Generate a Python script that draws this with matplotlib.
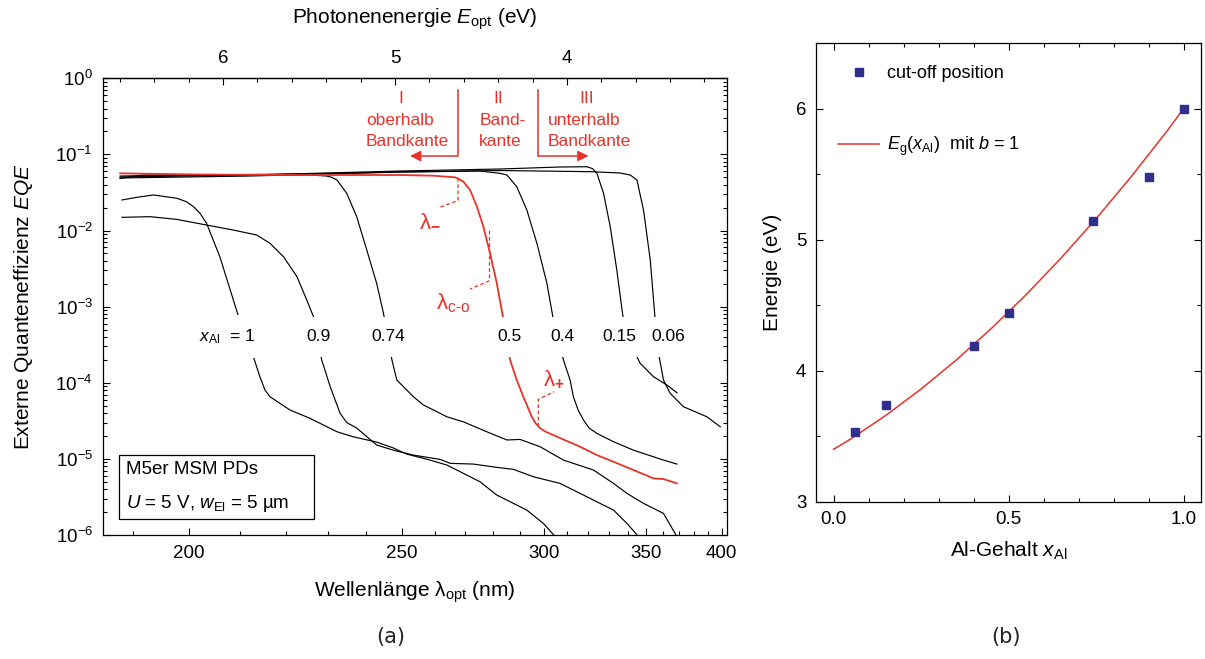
import numpy as np
import matplotlib
matplotlib.use("Agg")
import matplotlib.pyplot as plt
from matplotlib.ticker import MultipleLocator, LogLocator, NullFormatter
from matplotlib.lines import Line2D
from matplotlib.patches import Rectangle

plt.rcParams['font.family'] = ['Liberation Sans', 'DejaVu Sans']
plt.rcParams['mathtext.fontset'] = 'custom'
plt.rcParams['mathtext.rm'] = 'Liberation Sans'
plt.rcParams['mathtext.it'] = 'Liberation Sans:italic'
plt.rcParams['mathtext.bf'] = 'Liberation Sans:bold'

HC = 1239.84  # eV*nm
RED = '#e8332b'
BLUE = '#312f8e'

# ---- (a) EQE spectra: wavelength (nm) / EQE ----
wl_100 = [188.2, 190.7, 193.6, 197.8, 199.5, 200.9, 202.2, 203.4, 206.0, 208.1, 209.8, 212.9, 214.3,
          215.4, 216.5, 218.7, 221.0, 225.7, 232.3, 236.5, 242.8, 247.5, 251.4, 258.5, 263.9, 269.4,
          275.2, 281.3, 287.6, 292.9, 299.7, 304.8]
eqe_100 = [0.0252, 0.0273, 0.0293, 0.0265, 0.0240, 0.0206, 0.0166, 0.0124, 4.53e-3, 1.65e-3, 7.37e-4,
           2.20e-4, 1.20e-4, 8.02e-5, 6.55e-5, 5.36e-5, 4.38e-5, 3.40e-5, 2.27e-5, 1.95e-5, 1.66e-5,
           1.39e-5, 1.156e-5, 9.64e-6, 8.29e-6, 6.45e-6, 5.0e-6, 3.34e-6, 2.6e-6, 2.12e-6, 1.42e-6,
           9.5e-7]

wl_090 = [188.2, 193.0, 197.8, 203.4, 208.7, 213.6, 216.5, 219.5, 222.6, 224.9, 226.5, 228.5, 230.6,
          233.1, 234.8, 237.4, 242.8, 247.5, 253.4, 261.7, 265.0, 272.9, 281.3, 287.6, 295.6, 306.9,
          319.2, 332.5, 339.6, 346.0]
eqe_090 = [0.0149, 0.0152, 0.0140, 0.0118, 0.01015, 8.73e-3, 6.79e-3, 4.53e-3, 2.47e-3, 1.22e-3,
           7.37e-4, 1.99e-4, 8.86e-5, 3.96e-5, 3.0e-5, 2.54e-5, 1.52e-5, 1.30e-5, 1.12e-5, 9.85e-6,
           8.73e-6, 8.54e-6, 7.73e-6, 7.28e-6, 5.82e-6, 4.76e-6, 3.18e-6, 2.12e-6, 1.42e-6, 9.5e-7]

wl_074 = [187.9, 191.8, 204.1, 225.7, 229.7, 231.0, 232.3, 234.8, 237.4, 240.1, 242.8, 244.7, 247.1,
          248.5, 253.4, 256.5, 259.6, 263.9, 269.4, 277.6, 285.1, 290.2, 298.4, 308.4, 322.4, 332.5,
          339.6, 348.8, 360.6, 369.0]
eqe_074 = [0.0485, 0.0536, 0.0536, 0.0536, 0.0520, 0.0500, 0.0461, 0.0308, 0.0152, 5.54e-3, 2.02e-3,
           8.17e-4, 1.99e-4, 1.085e-4, 6.55e-5, 5.09e-5, 4.38e-5, 3.57e-5, 3.07e-5, 2.27e-5, 1.77e-5,
           1.80e-5, 1.44e-5, 9.64e-6, 7.13e-6, 4.76e-6, 3.52e-6, 2.60e-6, 1.92e-6, 9.5e-7]

wl_050 = [187.9, 202.1, 223.3, 249.5, 259.6, 266.6, 267.95, 269.4, 271.7, 274.1, 276.4, 278.8, 281.3,
          283.8, 286.3, 288.9, 291.5, 294.9, 296.7, 298.4, 300.45, 304.0, 316.1, 324.1, 332.5, 343.2,
          354.6, 360.6, 369.0]
eqe_050 = [0.0564, 0.0544, 0.0536, 0.0536, 0.0525, 0.0500, 0.0475, 0.0438, 0.0341, 0.0206, 0.0112,
           5.02e-3, 2.02e-3, 6.67e-4, 1.99e-4, 1.085e-4, 6.55e-5, 3.57e-5, 2.87e-5, 2.52e-5, 2.29e-5,
           2.05e-5, 1.44e-5, 1.12e-5, 9.16e-6, 7.13e-6, 5.54e-6, 5.43e-6, 4.76e-6]

wl_040 = [187.9, 202.1, 223.3, 249.5, 275.2, 282.5, 285.1, 288.9, 292.9, 297.0, 301.2, 304.0, 308.4,
          311.4, 312.9, 315.1, 317.6, 320.3, 324.1, 332.5, 343.2, 360.6, 369.0]
eqe_040 = [0.0520, 0.0536, 0.0553, 0.0587, 0.0605, 0.0564, 0.0536, 0.0376, 0.0186, 6.79e-3, 2.02e-3,
           6.67e-4, 1.99e-4, 1.085e-4, 6.55e-5, 4.38e-5, 3.24e-5, 2.54e-5, 2.16e-5, 1.68e-5, 1.30e-5,
           9.64e-6, 8.54e-6]

wl_015 = [187.9, 212.2, 249.5, 282.5, 306.9, 319.2, 322.0, 324.1, 327.4, 330.8, 334.2, 337.7, 343.2,
          346.9, 354.6, 362.7, 369.0]
eqe_015 = [0.0505, 0.0536, 0.0605, 0.0643, 0.0683, 0.0689, 0.0650, 0.0564, 0.0308, 0.0112, 3.03e-3,
           6.67e-4, 2.69e-4, 1.80e-4, 1.20e-4, 9.33e-5, 7.39e-5]

wl_006 = [187.9, 212.2, 249.5, 282.5, 320.8, 336.0, 341.4, 345.1, 348.8, 352.7, 355.6, 357.6, 360.6,
          364.7, 373.2, 389.2, 398.9]
eqe_006 = [0.0490, 0.0520, 0.0587, 0.0614, 0.0593, 0.0570, 0.0536, 0.0461, 0.0186, 4.10e-3, 6.67e-4,
           2.43e-4, 1.085e-4, 7.26e-5, 4.84e-5, 3.57e-5, 2.64e-5]

black_curves = [(wl_100, eqe_100), (wl_090, eqe_090), (wl_074, eqe_074),
                (wl_040, eqe_040), (wl_015, eqe_015), (wl_006, eqe_006)]

curve_labels = [r'$x_\mathrm{Al}$  = 1', '0.9', '0.74', '0.5', '0.4', '0.15', '0.06']
curve_label_wl = [207.5, 227.7, 246.0, 285.9, 307.8, 335.4, 363.4]

wl_major = [200, 250, 300, 350, 400]
wl_minor = [190, 210, 220, 230, 240, 260, 270, 280, 290, 310, 320, 330, 340, 360, 370, 380, 390]
ev_major = [6, 5, 4]

# ---- (b) cut-off positions ----
x_al = [0.06, 0.15, 0.4, 0.5, 0.74, 0.9, 1.0]
e_cut = [3.53, 3.74, 4.19, 4.44, 5.14, 5.48, 6.0]
x_fit = [0.0, 0.05, 0.1, 0.15, 0.2, 0.25, 0.3, 0.35, 0.4, 0.45, 0.5, 0.55, 0.6, 0.65, 0.7, 0.75,
         0.8, 0.85, 0.9, 0.95, 1.0]
e_fit = [3.40, 3.48, 3.57, 3.66, 3.76, 3.86, 3.97, 4.08, 4.20, 4.32, 4.45, 4.58, 4.72, 4.86, 5.01,
         5.16, 5.32, 5.48, 5.65, 5.82, 6.00]


def ev(wl):
    return HC / np.asarray(wl, dtype=float)


fig = plt.figure(figsize=(12.05, 6.59), dpi=100)

# ================= (a) =================
ax = fig.add_axes([0.0852, 0.1882, 0.5184, 0.693])
for wl, q in black_curves:
    ax.plot(ev(wl), q, color='black', lw=0.85, zorder=2)
ax.plot(ev(wl_050), eqe_050, color=RED, lw=1.3, zorder=2.5)

ax.set_yscale('log')
ax.set_ylim(1e-6, 1)
ax.set_xlim(6.70, 3.067)
ax.yaxis.set_major_locator(LogLocator(base=10, numticks=10))
ax.yaxis.set_minor_locator(LogLocator(base=10, subs=np.arange(2, 10), numticks=20))
ax.yaxis.set_minor_formatter(NullFormatter())

ax.set_xticks(ev(wl_major))
ax.set_xticklabels([str(w) for w in wl_major])
ax.set_xticks(ev(wl_minor), minor=True)
ax.tick_params(which='both', direction='in', top=False, right=True, labelsize=13.5, pad=7)
ax.tick_params(which='major', length=5, width=0.8)
ax.tick_params(which='minor', length=2.8, width=0.8)
ax.set_xlabel(r'Wellenlänge λ$_\mathrm{opt}$ (nm)', fontsize=15, labelpad=13)
ax.set_ylabel(r'Externe Quanteneffizienz $EQE$', fontsize=15, labelpad=15)

sec = ax.secondary_xaxis('top')
sec.set_xticks(ev_major)
sec.set_xticklabels([str(e) for e in ev_major])
sec.xaxis.set_minor_locator(MultipleLocator(0.2))
sec.tick_params(which='both', direction='in', labelsize=13.5, pad=8)
sec.tick_params(which='major', length=5, width=0.8)
sec.tick_params(which='minor', length=2.8, width=0.8)
sec.set_xlabel(r'Photonenenergie $E_\mathrm{opt}$ (eV)', fontsize=15, labelpad=19)

# curve labels with white background
for txt, wl in zip(curve_labels, curve_label_wl):
    ax.text(ev(wl), 4.0e-4, txt, ha='center', va='center', fontsize=12.5, zorder=4,
            bbox=dict(boxstyle='square,pad=0.7', fc='white', ec='none'))

# region markers
for wl_line, wl_tip in [(267.5, 252.4), (297.6, 320.0)]:
    ax.plot(ev([wl_line, wl_line]), [0.702, 0.0953], color=RED, lw=1.1, zorder=5)
    ax.annotate('', xy=(ev(wl_tip), 0.0953), xytext=(ev(wl_line), 0.0953),
                arrowprops=dict(arrowstyle='-|>', color=RED, lw=1.1, mutation_scale=16,
                                shrinkA=0, shrinkB=0), zorder=5)

ax.text(ev(249.7), 0.55, 'I', color=RED, ha='center', va='center', fontsize=12.5)
ax.text(ev(239.9), 0.283, 'oberhalb', color=RED, ha='left', va='center', fontsize=12.5)
ax.text(ev(239.9), 0.150, 'Bandkante', color=RED, ha='left', va='center', fontsize=12.5)
ax.text(ev(281.65), 0.55, 'II', color=RED, ha='center', va='center', fontsize=12.5)
ax.text(ev(274.96), 0.283, 'Band-', color=RED, ha='left', va='center', fontsize=12.5)
ax.text(ev(274.96), 0.150, 'kante', color=RED, ha='left', va='center', fontsize=12.5)
ax.text(ev(319.3), 0.55, 'III', color=RED, ha='center', va='center', fontsize=12.5)
ax.text(ev(301.4), 0.283, 'unterhalb', color=RED, ha='left', va='center', fontsize=12.5)
ax.text(ev(301.4), 0.150, 'Bandkante', color=RED, ha='left', va='center', fontsize=12.5)

# lambda markers (dashed leaders)
dash = dict(color=RED, lw=0.9, ls=(0, (3, 2)), zorder=3)
ax.plot(ev([267.6, 267.6, 261.0]), [0.049, 0.0248, 0.0198], **dash)
ax.plot(ev([278.6, 278.6, 271.7]), [9.94e-3, 2.19e-3, 1.70e-3], **dash)
ax.plot(ev([297.6, 297.6, 304.3]), [2.64e-5, 6.05e-5, 7.62e-5], **dash)
ax.text(ev(258.5), 0.0137, r'λ$_{\mathbf{-}}$', color=RED, ha='center', va='center', fontsize=16)
ax.text(ev(266.1), 1.11e-3, r'λ$_\mathrm{c\text{-}o}$', color=RED, ha='center', va='center', fontsize=16)
ax.text(ev(304.0), 1.085e-4, r'λ$_{\mathbf{+}}$', color=RED, ha='center', va='center', fontsize=16)

# info box
ax.add_patch(Rectangle((0.0266, 0.035), 0.3117, 0.140, transform=ax.transAxes,
                       fc='white', ec='black', lw=0.9, zorder=4))
ax.text(0.0373, 0.1423, 'M5er MSM PDs', transform=ax.transAxes, fontsize=13.5,
        ha='left', va='center', zorder=5)
ax.text(0.0373, 0.070, r'$U$ = 5 V, $w_\mathrm{El}$ = 5 µm', transform=ax.transAxes,
        fontsize=13.5, ha='left', va='center', zorder=5)

# ================= (b) =================
bx = fig.add_axes([0.6772, 0.2387, 0.3195, 0.6956])
bx.plot(x_fit, e_fit, color=RED, lw=1.1, zorder=2)
bx.plot(x_al, e_cut, ls='none', marker='s', ms=6, color=BLUE, mec=BLUE, zorder=3)
bx.set_xlim(-0.05, 1.05)
bx.set_ylim(3, 6.5)
bx.set_xticks([0.0, 0.5, 1.0])
bx.set_xticklabels(['0.0', '0.5', '1.0'])
bx.xaxis.set_minor_locator(MultipleLocator(0.1))
bx.set_yticks([3, 4, 5, 6])
bx.yaxis.set_minor_locator(MultipleLocator(0.5))
bx.tick_params(which='both', direction='in', top=True, right=True, labelsize=13.5, pad=7)
bx.tick_params(which='major', length=5, width=0.8)
bx.tick_params(which='minor', length=2.8, width=0.8)
bx.set_xlabel(r'Al-Gehalt $x_\mathrm{Al}$', fontsize=15, labelpad=8)
bx.set_ylabel('Energie (eV)', fontsize=15, labelpad=10)

handles = [Line2D([], [], ls='none', marker='s', ms=6, color=BLUE),
           Line2D([], [], color=RED, lw=1.1)]
bx.legend(handles, ['cut-off position', r'$E_\mathrm{g}$($x_\mathrm{Al}$)  mit $b$ = 1'],
          loc='upper left', bbox_to_anchor=(0.057, 0.952), frameon=False, fontsize=13,
          borderpad=0, borderaxespad=0, handlelength=2.3, handletextpad=0.4, labelspacing=2.9)

for a in (ax, bx):
    for s in a.spines.values():
        s.set_linewidth(0.9)
for s in sec.spines.values():
    s.set_linewidth(0.9)

fig.text(0.3245, 0.033, '(a)', family='DejaVu Sans', fontsize=15, ha='center', va='center', color='#222222')
fig.text(0.835, 0.033, '(b)', family='DejaVu Sans', fontsize=15, ha='center', va='center', color='#222222')

fig.savefig('out.png', dpi=100)
